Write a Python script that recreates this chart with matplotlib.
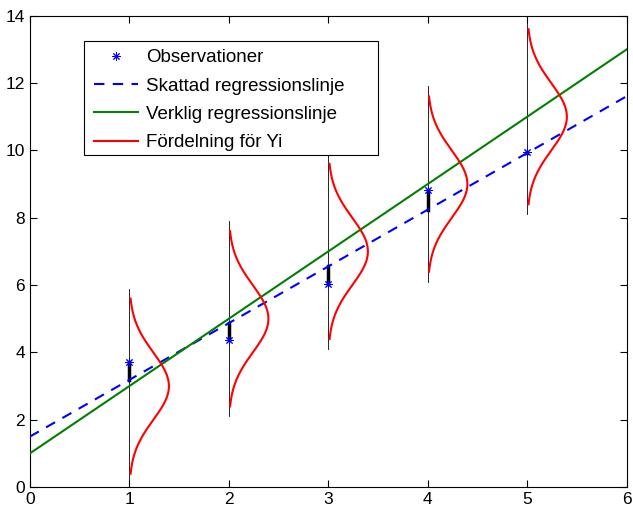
import numpy as np
import matplotlib.pyplot as plt
from matplotlib.patches import Rectangle

plt.rcParams['font.family'] = ['Liberation Sans', 'DejaVu Sans']

# data
xObs = [1, 2, 3, 4, 5]
yObs = [3.72, 4.38, 6.02, 8.82, 9.95]
trueIntercept, trueSlope = 1.0, 2.0
estIntercept, estSlope = 1.5, 1.685
sigma = 1.0
curveHalf = 2.6
vlineHalf = 2.9
labels = ['Observationer', 'Skattad regressionslinje', 'Verklig regressionslinje', 'Fördelning för Yi']

fig = plt.figure(figsize=(6.33, 5.08), dpi=100)
ax = fig.add_axes([0.047, 0.041, 0.943, 0.928])

xs = np.array([0, 6])
for xi, yi in zip(xObs, yObs):
    mu = trueIntercept + trueSlope * xi
    ax.plot([xi, xi], [mu - vlineHalf, mu + vlineHalf], color='k', lw=0.6, zorder=1)
    yhat = estIntercept + estSlope * xi
    ax.plot([xi, xi], [yhat, yi], color='k', lw=2.5, zorder=2)

obs, = ax.plot(xObs, yObs, linestyle='none', marker=(8, 2, 0), color='b',
               markersize=6, markeredgewidth=0.7, zorder=5)
est, = ax.plot(xs, estIntercept + estSlope * xs, 'b--', lw=1.5, dashes=(5, 4), zorder=3)
tru, = ax.plot(xs, trueIntercept + trueSlope * xs, color='#008000', lw=1.5, zorder=3)

for i, xi in enumerate(xObs):
    mu = trueIntercept + trueSlope * xi
    yy = np.linspace(mu - curveHalf, mu + curveHalf, 200)
    pdf = np.exp(-0.5 * ((yy - mu) / sigma) ** 2) / (sigma * np.sqrt(2 * np.pi))
    red, = ax.plot(xi + pdf, yy, color='r', lw=1.5, zorder=4)

ax.set_xlim(0, 6)
ax.set_ylim(0, 14)
ax.set_xticks(range(0, 7))
ax.set_yticks(range(0, 15, 2))
ax.tick_params(direction='in', top=True, right=True, labelsize=12.5, length=5)

# matlab style legend box (wider than the text)
ax.add_patch(Rectangle((0.0905, 0.705), 0.4925, 0.242, transform=ax.transAxes,
                       facecolor='white', edgecolor='k', lw=0.8, zorder=9))
leg = ax.legend([obs, est, tru, red], labels,
                loc='upper left', bbox_to_anchor=(0.0905, 0.951), fontsize=13.5,
                frameon=False, handlelength=2.35, handletextpad=0.4,
                borderaxespad=0, borderpad=0.55, labelspacing=0.6)
leg.set_zorder(10)

fig.savefig('out.png', dpi=100)
